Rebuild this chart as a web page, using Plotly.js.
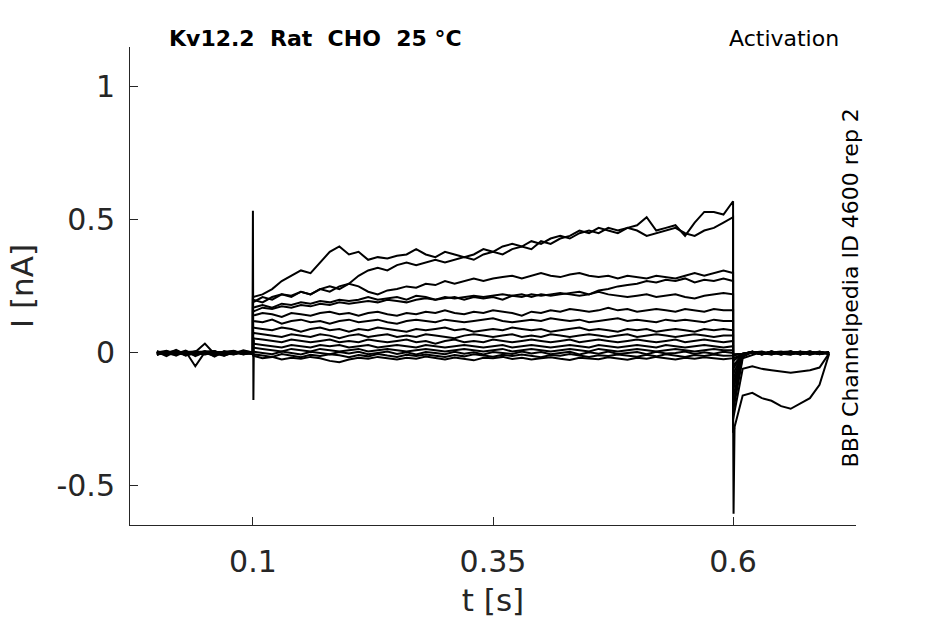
<!DOCTYPE html>
<html>
<head>
<meta charset="utf-8">
<script src="https://cdn.plot.ly/plotly-3.0.1.min.js"></script>
<style>
  html, body { margin: 0; padding: 0; background: #fff; }
  #plot { width: 945px; height: 624px; }
</style>
</head>
<body>
<div id="plot"></div>
<script>
// time grid [s]: holding (0-0.1), test pulse (0.1-0.6), tail (0.6-0.7)
const t = [
  0, 0.01, 0.02, 0.03, 0.04, 0.05, 0.06, 0.07, 0.08, 0.09, 0.1,
  0.1, 0.11, 0.12, 0.13, 0.14, 0.15, 0.16, 0.17, 0.18, 0.19, 0.2,
  0.21, 0.22, 0.23, 0.24, 0.25, 0.26, 0.27, 0.28, 0.29, 0.3,
  0.31, 0.32, 0.33, 0.34, 0.35, 0.36, 0.37, 0.38, 0.39, 0.4,
  0.41, 0.42, 0.43, 0.44, 0.45, 0.46, 0.47, 0.48, 0.49, 0.5,
  0.51, 0.52, 0.53, 0.54, 0.55, 0.56, 0.57, 0.58, 0.59, 0.6,
  0.6, 0.61, 0.62, 0.63, 0.64, 0.65, 0.66, 0.67, 0.68, 0.69, 0.7
];

// current sweeps [nA], one per voltage step
const sweep1 = [
  0.004, -0.012, 0.008, -0.01, 0.002, 0.006, -0.014, 0.005, -0.004, 0.01, 0.002,
  0.21, 0.22, 0.24, 0.27, 0.29, 0.31, 0.30, 0.34, 0.38, 0.40, 0.37, 0.38, 0.35, 0.36, 0.355, 0.365, 0.37,
  0.39, 0.37, 0.36, 0.38, 0.37, 0.36, 0.37, 0.39, 0.38, 0.40, 0.41, 0.40, 0.42, 0.41, 0.43, 0.44, 0.43,
  0.45, 0.46, 0.45, 0.47, 0.46, 0.47, 0.48, 0.51, 0.46, 0.47, 0.48, 0.44, 0.49, 0.53, 0.53, 0.52, 0.57,
  -0.30, -0.16, -0.15, -0.17, -0.18, -0.20, -0.21, -0.19, -0.17, -0.12, -0.004
];
const sweep2 = [
  -0.008, 0.006, -0.003, 0.009, -0.012, 0.003, 0.007, -0.01, 0.002, -0.004, 0.001,
  0.20, 0.19, 0.21, 0.22, 0.215, 0.23, 0.22, 0.24, 0.25, 0.24, 0.26, 0.29, 0.31, 0.32, 0.31, 0.33, 0.34,
  0.33, 0.34, 0.35, 0.34, 0.35, 0.36, 0.35, 0.37, 0.38, 0.37, 0.39, 0.40, 0.39, 0.42, 0.41, 0.43, 0.44,
  0.46, 0.45, 0.47, 0.46, 0.45, 0.47, 0.46, 0.44, 0.45, 0.46, 0.47, 0.45, 0.44, 0.46, 0.47, 0.49, 0.51,
  -0.25, -0.06, -0.05, -0.06, -0.065, -0.07, -0.075, -0.07, -0.065, -0.055, -0.002
];
const sweep3 = [
  0.003, -0.004, 0.011, -0.007, 0.004, 0.0, -0.011, 0.006, -0.003, 0.004, -0.002,
  0.19, 0.21, 0.20, 0.22, 0.21, 0.23, 0.22, 0.24, 0.23, 0.25, 0.26, 0.25, 0.23, 0.22, 0.235, 0.24, 0.25,
  0.245, 0.26, 0.255, 0.27, 0.26, 0.27, 0.28, 0.27, 0.28, 0.285, 0.29, 0.28, 0.29, 0.30, 0.29, 0.285, 0.295,
  0.30, 0.29, 0.285, 0.29, 0.28, 0.29, 0.285, 0.28, 0.29, 0.285, 0.28, 0.29, 0.30, 0.29, 0.30, 0.31, 0.30,
  -0.22, -0.02, -0.008, 0.004, -0.006, 0.003, -0.004, 0.005, -0.007, 0.002, -0.003
];
const sweep4 = [
  -0.006, 0.002, 0.007, -0.009, -0.002, 0.005, -0.006, 0.003, 0.008, -0.005, 0.0,
  0.17, 0.18, 0.17, 0.185, 0.18, 0.19, 0.185, 0.195, 0.19, 0.20, 0.195, 0.20, 0.21, 0.20, 0.205, 0.21, 0.20,
  0.215, 0.21, 0.20, 0.205, 0.21, 0.20, 0.21, 0.205, 0.21, 0.20, 0.215, 0.22, 0.21, 0.22, 0.215, 0.22, 0.225,
  0.23, 0.22, 0.235, 0.24, 0.25, 0.255, 0.26, 0.27, 0.265, 0.275, 0.27, 0.28, 0.265, 0.275, 0.27, 0.28, 0.27,
  -0.20, -0.015, 0.003, -0.005, 0.006, -0.004, 0.002, -0.006, 0.004, -0.003, 0.001
];
const sweep5 = [
  0.002, 0.008, -0.005, 0.003, -0.009, 0.004, 0.002, -0.007, 0.004, 0.001, -0.003,
  0.155, 0.17, 0.165, 0.175, 0.17, 0.18, 0.175, 0.185, 0.18, 0.19, 0.185, 0.19, 0.195, 0.19, 0.20, 0.195, 0.19,
  0.20, 0.205, 0.20, 0.21, 0.205, 0.21, 0.215, 0.21, 0.215, 0.22, 0.215, 0.21, 0.22, 0.215, 0.22, 0.225, 0.22,
  0.215, 0.22, 0.23, 0.22, 0.215, 0.21, 0.215, 0.22, 0.21, 0.215, 0.22, 0.21, 0.205, 0.215, 0.22, 0.225, 0.22,
  -0.17, -0.01, 0.005, -0.004, 0.002, -0.007, 0.004, -0.002, 0.006, -0.005, 0.002
];
const sweep6 = [
  -0.003, 0.004, -0.01, 0.006, -0.002, -0.005, 0.004, 0.002, -0.006, 0.003, -0.001,
  0.14, 0.15, 0.145, 0.135, 0.15, 0.145, 0.14, 0.15, 0.155, 0.145, 0.15, 0.14, 0.15, 0.155, 0.145, 0.14, 0.15,
  0.145, 0.155, 0.15, 0.16, 0.15, 0.145, 0.155, 0.15, 0.16, 0.155, 0.15, 0.14, 0.155, 0.15, 0.16, 0.155, 0.165,
  0.16, 0.155, 0.16, 0.17, 0.16, 0.165, 0.155, 0.16, 0.165, 0.16, 0.155, 0.165, 0.16, 0.155, 0.165, 0.16, 0.16,
  -0.14, -0.008, 0.002, -0.006, 0.004, -0.003, 0.006, -0.005, 0.001, -0.004, 0.003
];
const sweep7 = [
  0.005, -0.007, 0.002, 0.004, -0.004, 0.006, -0.002, -0.011, 0.003, 0.005, 0.002,
  0.12, 0.115, 0.125, 0.11, 0.12, 0.125, 0.115, 0.12, 0.11, 0.12, 0.125, 0.115, 0.12, 0.125, 0.115, 0.11, 0.12,
  0.125, 0.12, 0.115, 0.125, 0.12, 0.115, 0.12, 0.125, 0.13, 0.12, 0.115, 0.12, 0.125, 0.12, 0.13, 0.125, 0.12,
  0.125, 0.115, 0.12, 0.125, 0.13, 0.12, 0.125, 0.12, 0.115, 0.125, 0.12, 0.125, 0.12, 0.115, 0.125, 0.12, 0.12,
  -0.12, -0.006, 0.004, -0.003, 0.005, -0.006, 0.002, 0.004, -0.004, 0.003, -0.002
];
const sweep8 = [
  -0.004, 0.003, 0.005, -0.006, 0.002, -0.003, 0.005, -0.004, 0.006, -0.002, 0.003,
  0.095, 0.09, 0.085, 0.095, 0.09, 0.08, 0.09, 0.095, 0.085, 0.09, 0.08, 0.09, 0.085, 0.095, 0.09, 0.085, 0.08,
  0.09, 0.085, 0.09, 0.095, 0.085, 0.09, 0.08, 0.085, 0.09, 0.085, 0.095, 0.09, 0.085, 0.09, 0.08, 0.085, 0.09,
  0.095, 0.085, 0.09, 0.085, 0.08, 0.09, 0.085, 0.09, 0.08, 0.085, 0.09, 0.085, 0.08, 0.09, 0.085, 0.09, 0.085,
  -0.10, -0.005, 0.003, -0.005, 0.002, 0.005, -0.004, 0.001, -0.006, 0.004, 0.0
];
const sweep9 = [
  0.006, -0.002, -0.005, 0.003, 0.005, -0.006, 0.001, 0.004, -0.003, 0.002, -0.004,
  0.075, 0.07, 0.065, 0.06, 0.07, 0.065, 0.06, 0.07, 0.065, 0.055, 0.065, 0.07, 0.06, 0.065, 0.07, 0.06, 0.065,
  0.06, 0.07, 0.065, 0.06, 0.055, 0.065, 0.07, 0.065, 0.06, 0.065, 0.07, 0.06, 0.065, 0.06, 0.07, 0.065, 0.06,
  0.065, 0.07, 0.065, 0.06, 0.065, 0.07, 0.06, 0.065, 0.07, 0.065, 0.06, 0.065, 0.07, 0.065, 0.06, 0.065, 0.065,
  -0.08, -0.004, 0.004, -0.002, -0.006, 0.003, 0.005, -0.003, 0.002, -0.005, 0.003
];
const sweep10 = [
  -0.002, 0.005, -0.004, -0.003, 0.006, 0.002, -0.005, 0.003, 0.004, -0.006, 0.002,
  0.055, 0.05, 0.045, 0.04, 0.05, 0.045, 0.04, 0.045, 0.05, 0.04, 0.045, 0.04, 0.05, 0.045, 0.04, 0.045, 0.05,
  0.04, 0.045, 0.035, 0.045, 0.05, 0.04, 0.045, 0.04, 0.05, 0.045, 0.04, 0.045, 0.05, 0.045, 0.04, 0.045, 0.05,
  0.04, 0.045, 0.05, 0.045, 0.04, 0.045, 0.05, 0.045, 0.04, 0.045, 0.05, 0.04, 0.045, 0.05, 0.045, 0.04, 0.045,
  -0.06, -0.003, 0.002, 0.005, -0.004, 0.001, -0.005, 0.004, 0.002, -0.003, 0.001
];
const sweep11 = [
  0.003, -0.006, 0.004, 0.001, -0.005, 0.004, 0.006, -0.003, -0.005, 0.004, -0.001,
  0.035, 0.03, 0.025, 0.02, 0.03, 0.025, 0.02, 0.03, 0.025, 0.03, 0.02, 0.025, 0.03, 0.02, 0.025, 0.03, 0.025,
  0.02, 0.03, 0.025, 0.02, 0.025, 0.03, 0.025, 0.02, 0.025, 0.03, 0.02, 0.025, 0.03, 0.025, 0.02, 0.025, 0.03,
  0.025, 0.02, 0.03, 0.025, 0.02, 0.025, 0.03, 0.025, 0.02, 0.03, 0.025, 0.02, 0.025, 0.03, 0.025, 0.02, 0.025,
  -0.05, -0.004, 0.003, -0.005, 0.004, -0.002, 0.003, -0.006, 0.004, 0.001, -0.003
];
const sweep12 = [
  -0.006, 0.002, 0.003, -0.004, 0.004, -0.002, -0.006, 0.005, 0.001, -0.003, 0.004,
  0.02, 0.015, 0.01, 0.005, 0.015, 0.01, 0.005, 0.015, 0.01, 0.005, 0.01, 0.015, 0.005, 0.01, 0.015, 0.01, 0.005,
  0.01, 0.015, 0.01, 0.005, 0.01, 0.015, 0.01, 0.005, 0.01, 0.015, 0.005, 0.01, 0.015, 0.01, 0.005, 0.01, 0.015,
  0.01, 0.005, 0.015, 0.01, 0.005, 0.01, 0.015, 0.01, 0.005, 0.01, 0.015, 0.01, 0.005, 0.01, 0.015, 0.01, 0.01,
  -0.03, -0.005, 0.002, -0.004, 0.005, -0.003, -0.006, 0.003, -0.002, 0.005, -0.004
];
const sweep13 = [
  0.004, -0.003, -0.007, 0.005, -0.05, 0.003, -0.005, 0.002, 0.006, -0.004, 0.002,
  0.005, 0.0, -0.005, 0.005, 0.0, -0.006, 0.004, 0.0, -0.005, 0.003, -0.002, 0.004, -0.005, 0.0, 0.005, -0.004, 0.002,
  -0.006, 0.003, 0.0, -0.005, 0.004, -0.003, 0.002, -0.006, 0.003, 0.0, -0.004, 0.005, -0.002, 0.003, -0.005, 0.0,
  0.004, -0.006, 0.002, -0.003, 0.005, -0.004, 0.0, 0.003, -0.005, 0.004, -0.002, 0.0, 0.005, -0.004, 0.002, -0.003, 0.004, 0.0,
  -0.02, -0.006, 0.004, -0.002, 0.003, -0.005, 0.004, -0.003, 0.005, -0.004, 0.001
];
const sweep14 = [
  -0.004, 0.004, -0.002, -0.006, 0.003, 0.035, -0.004, -0.006, 0.002, 0.004, -0.003,
  -0.005, -0.01, -0.015, -0.004, -0.011, -0.016, -0.007, -0.012, -0.005, -0.009, -0.016, -0.008, -0.013, -0.004, -0.01, -0.015, -0.007,
  -0.012, -0.006, -0.011, -0.015, -0.008, -0.013, -0.005, -0.009, -0.014, -0.007, -0.012, -0.006, -0.01, -0.016, -0.008,
  -0.011, -0.004, -0.01, -0.015, -0.009, -0.012, -0.006, -0.01, -0.014, -0.007, -0.013, -0.005, -0.01, -0.015, -0.008, -0.012, -0.006, -0.011, -0.01,
  -0.01, -0.004, 0.003, -0.006, 0.002, -0.003, 0.005, -0.005, 0.002, -0.002, 0.003
];
const sweep15 = [
  0.002, -0.005, 0.006, -0.002, -0.006, 0.002, 0.005, -0.004, -0.002, 0.003, -0.005,
  -0.01, -0.02, -0.015, -0.025, -0.018, -0.022, -0.015, -0.02, -0.03, -0.035, -0.025, -0.018, -0.022, -0.015, -0.02, -0.025, -0.018,
  -0.022, -0.014, -0.02, -0.025, -0.017, -0.022, -0.028, -0.018, -0.02, -0.015, -0.023, -0.018, -0.025, -0.02, -0.016,
  -0.022, -0.027, -0.018, -0.02, -0.024, -0.016, -0.021, -0.026, -0.018, -0.022, -0.015, -0.02, -0.025, -0.018, -0.022, -0.016, -0.02, -0.024, -0.02,
  -0.005, -0.003, 0.004, -0.005, 0.003, -0.002, -0.006, 0.004, -0.003, 0.002, -0.004
];

// capacitive transients at pulse on/off
const onT = [0.0995, 0.1, 0.1005, 0.101];
const onI = [0.0, 0.534, -0.177, 0.05];
const offT = [0.6, 0.6005, 0.6015];
const offI = [-0.2, -0.605, -0.28];

const xTicks = [0.1, 0.35, 0.6];
const xTickText = ['0.1', '0.35', '0.6'];
const yTicks = [-0.5, 0, 0.5, 1];
const yTickText = ['-0.5', '0', '0.5', '1'];

const sweeps = [sweep1, sweep2, sweep3, sweep4, sweep5, sweep6, sweep7, sweep8,
  sweep9, sweep10, sweep11, sweep12, sweep13, sweep14, sweep15];

const line = {color: '#000000', width: 2};
const data = sweeps.map(function (s) {
  return {x: t, y: s, type: 'scatter', mode: 'lines', line: line, hoverinfo: 'skip'};
});
data.push({x: onT, y: onI, type: 'scatter', mode: 'lines', line: line, hoverinfo: 'skip'});
data.push({x: offT, y: offI, type: 'scatter', mode: 'lines', line: line, hoverinfo: 'skip'});

const axisCol = '#262626';
const layout = {
  width: 945,
  height: 624,
  margin: {l: 130, r: 89, t: 47, b: 99},
  paper_bgcolor: '#ffffff',
  plot_bgcolor: '#ffffff',
  showlegend: false,
  font: {family: 'DejaVu Sans', color: axisCol},
  xaxis: {
    range: [-0.028, 0.728],
    tickvals: xTicks,
    ticktext: xTickText,
    ticks: 'inside',
    ticklen: 8,
    tickcolor: axisCol,
    showline: true,
    linecolor: axisCol,
    linewidth: 1,
    showgrid: false,
    zeroline: false,
    tickfont: {size: 30, color: axisCol},
    ticklabelstandoff: 10,
    title: {text: 't [s]', font: {size: 31, color: axisCol}, standoff: 11}
  },
  yaxis: {
    range: [-0.647, 1.15],
    tickvals: yTicks,
    ticktext: yTickText,
    ticks: 'inside',
    ticklen: 8,
    tickcolor: axisCol,
    showline: true,
    linecolor: axisCol,
    linewidth: 1,
    showgrid: false,
    zeroline: false,
    tickfont: {size: 30, color: axisCol},
    ticklabelstandoff: 8,
    title: {text: 'I [nA]', font: {size: 31, color: axisCol}, standoff: 13}
  },
  annotations: [
    {
      text: 'Kv12.2\u00a0\u00a0Rat\u00a0\u00a0CHO\u00a0\u00a025\u00a0°C',
      xref: 'paper', yref: 'paper', x: 0.0505, y: 1.018,
      xanchor: 'left', yanchor: 'middle', showarrow: false,
      font: {family: 'DejaVu Sans', size: 22, color: '#000000', weight: 'bold'}
    },
    {
      text: 'Activation',
      xref: 'paper', yref: 'paper', x: 0.979, y: 1.018,
      xanchor: 'right', yanchor: 'middle', showarrow: false,
      font: {family: 'DejaVu Sans', size: 22, color: '#000000'}
    },
    {
      text: 'BBP Channelpedia ID 4600 rep 2',
      xref: 'paper', yref: 'paper', x: 0.9917, y: 0.497,
      xanchor: 'center', yanchor: 'middle', textangle: -90, showarrow: false,
      font: {family: 'DejaVu Sans', size: 22, color: '#000000'}
    }
  ]
};

Plotly.newPlot('plot', data, layout, {staticPlot: true, displayModeBar: false});
</script>
</body>
</html>
